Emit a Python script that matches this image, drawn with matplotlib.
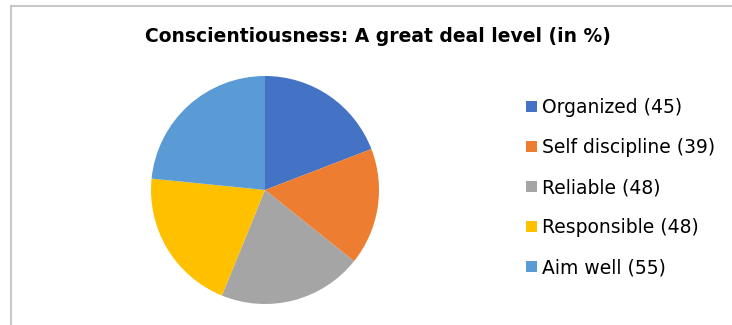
import matplotlib
matplotlib.use("Agg")
import matplotlib.pyplot as plt
from matplotlib.lines import Line2D

plt.rcParams["font.family"] = ["DejaVu Sans"]

traits = ["Organized", "Self discipline", "Reliable", "Responsible", "Aim well"]
values = [45, 39, 48, 48, 55]
colors = ["#4472C4", "#ED7D31", "#A5A5A5", "#FFC000", "#5B9BD5"]

W, H = 732, 325
fig = plt.figure(figsize=(W / 100, H / 100), dpi=100)

# chart frame (only top and left edges fall inside the image)
frame = dict(color="#c8c8c8", lw=1.5)
fig.add_artist(Line2D([11 / W, 1.0], [1 - 6 / H, 1 - 6 / H], **frame))
fig.add_artist(Line2D([11 / W, 11 / W], [0.0, 1 - 6 / H], **frame))

fig.text(378 / W, 1 - 37 / H, "Conscientiousness: A great deal level (in %)",
         ha="center", va="center", fontsize=13.5, fontweight="bold")

cx, cy, r = 265, 190, 114
ax = fig.add_axes([(cx - r) / W, (H - cy - r) / H, 2 * r / W, 2 * r / H])
wedges, _ = ax.pie(values, colors=colors, startangle=90, counterclock=False,
                   wedgeprops=dict(edgecolor="none"), radius=1.0)
ax.set_xlim(-1, 1)
ax.set_ylim(-1, 1)
ax.set_aspect("equal")
ax.axis("off")

labels = [f"{t} ({v})" for t, v in zip(traits, values)]
fig.legend(wedges, labels, loc="upper left", bbox_to_anchor=(517 / W, 1 - 89 / H),
           frameon=False, fontsize=13.5, handlelength=0.55, handleheight=0.55,
           handletextpad=0.3, labelspacing=1.12, borderpad=0)

fig.savefig("out.png", dpi=100)
